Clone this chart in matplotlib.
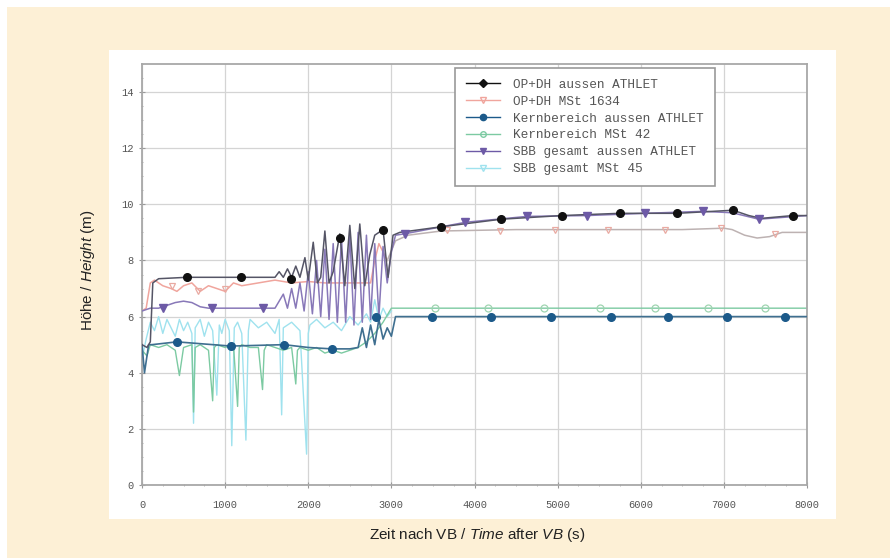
import numpy as np
import matplotlib
matplotlib.use("Agg")
import matplotlib.pyplot as plt
from matplotlib.lines import Line2D
from matplotlib.patches import Rectangle
from matplotlib.ticker import MultipleLocator

# --- data (time in s, level in m) ---
# OP+DH aussen ATHLET (black)
t_opdh = [0, 60, 100, 130, 200, 540, 1190, 1600, 1650, 1700, 1750, 1800, 1850, 1900,
          1960, 2000, 2060, 2110, 2150, 2200, 2250, 2300, 2380, 2440, 2500, 2560, 2620,
          2680, 2740, 2800, 2900, 2960, 3020, 3100, 3600, 4320, 5050, 5750, 6440, 7110,
          7300, 7450, 7830, 8000]
h_opdh = [5.0, 4.9, 5.1, 7.2, 7.35, 7.4, 7.4, 7.4, 7.6, 7.4, 7.7, 7.4, 7.8, 7.4,
          8.1, 7.3, 8.65, 7.2, 7.4, 9.05, 7.2, 7.6, 8.95, 7.1, 9.25, 7.0, 9.3,
          7.1, 8.2, 8.9, 9.1, 7.4, 8.9, 9.0, 9.2, 9.47, 9.6, 9.68, 9.68, 9.79,
          9.6, 9.5, 9.6, 9.6]
tm_opdh = [540, 1190, 1790, 2380, 2900, 3600, 4320, 5050, 5750, 6440, 7110, 7830]
hm_opdh = [7.4, 7.4, 7.35, 8.8, 9.1, 9.2, 9.47, 9.6, 9.68, 9.68, 9.79, 9.6]

# OP+DH MSt 1634 (pink)
t_opdh_m = [0, 50, 100, 150, 250, 350, 420, 500, 600, 700, 800, 900, 1000, 1100, 1200,
            1400, 1600, 1800, 2000, 2200, 2400, 2600, 2750, 2800, 2850, 2950, 3050, 3200,
            3600, 4500, 5500, 6500, 7000, 7100, 7250, 7400, 7550, 7700, 8000]
h_opdh_m = [6.2, 6.3, 7.2, 7.3, 7.1, 7.0, 6.9, 7.1, 7.2, 6.9, 7.1, 7.0, 6.9, 7.2, 7.1,
            7.2, 7.3, 7.2, 7.25, 7.2, 7.2, 7.2, 7.2, 8.0, 8.6, 8.0, 8.7, 8.9,
            9.05, 9.1, 9.1, 9.1, 9.15, 9.1, 8.9, 8.8, 8.85, 9.0, 9.0]
tm_opdh_m = [360, 670, 1000, 3670, 4310, 4970, 5610, 6290, 6960, 7620]
hm_opdh_m = [7.1, 6.9, 7.0, 9.07, 9.05, 9.1, 9.1, 9.1, 9.15, 8.95]

# Kernbereich aussen ATHLET (dark blue)
t_kern = [0, 30, 60, 80, 120, 420, 1070, 1710, 2000, 2280, 2500, 2600, 2650, 2700, 2750,
          2800, 2850, 2900, 2950, 3000, 3050, 3490, 4200, 4920, 5640, 6330, 7040, 7740, 8000]
h_kern = [5.0, 4.0, 4.6, 5.0, 5.0, 5.1, 4.95, 5.0, 4.9, 4.85, 4.85, 4.9, 5.6, 4.9, 5.7,
          5.0, 5.9, 5.2, 5.6, 5.3, 6.0, 6.0, 6.0, 6.0, 6.0, 6.0, 6.0, 6.0, 6.0]
tm_kern = [420, 1070, 1710, 2280, 2820, 3490, 4200, 4920, 5640, 6330, 7040, 7740]
hm_kern = [5.1, 4.95, 5.0, 4.85, 6.0, 6.0, 6.0, 6.0, 6.0, 6.0, 6.0, 6.0]

# Kernbereich MSt 42 (light green)
t_kern_m = [0, 60, 100, 200, 300, 400, 450, 500, 600, 620, 640, 700, 800, 850, 870, 900,
            1000, 1100, 1150, 1170, 1200, 1300, 1400, 1450, 1470, 1500, 1600, 1700, 1800,
            1850, 1870, 1900, 2000, 2100, 2200, 2300, 2400, 2500, 2600, 2700, 2800, 2900,
            3000, 3100, 8000]
h_kern_m = [4.8, 4.6, 5.0, 4.9, 5.0, 4.8, 3.9, 4.9, 5.0, 2.6, 4.9, 5.0, 4.8, 3.0, 4.9, 5.0,
            4.9, 5.0, 2.8, 4.9, 5.0, 4.9, 4.9, 3.4, 4.8, 5.0, 4.9, 4.8, 4.9,
            3.6, 4.8, 4.9, 4.8, 4.9, 4.7, 4.8, 4.7, 4.8, 4.9, 5.1, 5.4, 5.8,
            6.3, 6.3, 6.3]
tm_kern_m = [3530, 4160, 4840, 5510, 6170, 6810, 7500]
hm_kern_m = [6.3, 6.3, 6.3, 6.3, 6.3, 6.3, 6.3]

# SBB gesamt aussen ATHLET (purple)
t_sbb = [0, 100, 200, 300, 400, 500, 600, 700, 800, 900, 1000, 1200, 1400, 1600, 1700,
         1750, 1800, 1850, 1900, 1950, 2000, 2050, 2100, 2150, 2200, 2250, 2300, 2350,
         2400, 2450, 2500, 2550, 2600, 2650, 2700, 2750, 2800, 2850, 2900, 2950, 3000,
         3050, 3160, 3890, 4630, 5350, 6050, 6750, 7100, 7420, 8000]
h_sbb = [6.2, 6.3, 6.3, 6.4, 6.5, 6.55, 6.5, 6.35, 6.3, 6.3, 6.3, 6.3, 6.3, 6.3, 6.8,
         6.3, 7.0, 6.3, 7.2, 6.2, 7.6, 6.1, 8.0, 6.0, 8.4, 5.9, 8.6, 5.8,
         8.8, 5.8, 8.9, 5.7, 9.0, 5.8, 8.9, 5.9, 8.6, 6.0, 8.5, 7.2, 8.3,
         8.9, 8.95, 9.36, 9.57, 9.6, 9.68, 9.75, 9.7, 9.47, 9.6]
tm_sbb = [250, 840, 1460, 3160, 3890, 4630, 5350, 6050, 6750, 7420]
hm_sbb = [6.3, 6.3, 6.3, 8.95, 9.36, 9.57, 9.6, 9.68, 9.75, 9.47]

# SBB gesamt MSt 45 (light cyan)
t_sbb_m = [0, 50, 100, 150, 200, 250, 300, 350, 400, 450, 500, 550, 600, 620, 640, 700,
           750, 800, 850, 900, 930, 960, 1000, 1050, 1080, 1110, 1150, 1200, 1250, 1280,
           1300, 1400, 1500, 1600, 1650, 1680, 1700, 1800, 1900, 1980, 2000, 2020, 2100,
           2200, 2300, 2400, 2500, 2600, 2700, 2750, 2800, 2850, 2900, 2950, 3000]
h_sbb_m = [4.5, 5.2, 5.8, 5.5, 6.0, 5.4, 5.9, 5.6, 5.3, 5.9, 5.5, 5.8, 5.4, 2.2, 5.6, 5.9,
           5.3, 5.8, 5.5, 3.2, 5.7, 5.4, 5.9, 5.5, 1.4, 5.6, 5.8, 5.4, 1.6, 5.5,
           5.9, 5.6, 5.8, 5.4, 5.9, 2.5, 5.6, 5.8, 5.5, 1.1, 5.4, 5.7, 5.9,
           5.6, 5.8, 5.5, 6.0, 5.7, 6.1, 5.8, 6.6, 5.9, 6.3, 6.0, 6.2]

labels = ["OP+DH aussen ATHLET", "OP+DH MSt 1634", "Kernbereich aussen ATHLET",
          "Kernbereich MSt 42", "SBB gesamt aussen ATHLET", "SBB gesamt MSt 45"]

BEIGE = "#fdf0d6"
TICKCOL = "#555555"
MONO = "Liberation Mono"

plt.rcParams["mathtext.fontset"] = "custom"
plt.rcParams["mathtext.it"] = "Liberation Sans:italic"
plt.rcParams["mathtext.rm"] = "Liberation Sans"

fig = plt.figure(figsize=(8.9, 5.58), dpi=100, facecolor="white")
# beige page and white chart panel behind the axes
fig.patches.append(Rectangle((7 / 890, 0), 1, 1 - 7 / 558, transform=fig.transFigure,
                             facecolor=BEIGE, edgecolor="none", zorder=-2))
fig.patches.append(Rectangle((109 / 890, 1 - 519 / 558), 727 / 890, 469 / 558,
                             transform=fig.transFigure, facecolor="white",
                             edgecolor="none", zorder=-1))

ax = fig.add_axes([142 / 890, 1 - 485 / 558, 665 / 890, 421 / 558])
ax.set_facecolor("white")
ax.set_zorder(2)

# lines
ax.plot(t_sbb_m, h_sbb_m, color="#9fe2ee", lw=1.0, zorder=2)
ax.plot(t_kern_m, h_kern_m, color="#7ccaa2", lw=1.0, zorder=2.2)
split = t_opdh_m.index(2950)
ax.plot(t_opdh_m[:split + 1], h_opdh_m[:split + 1], color="#f0a59d", lw=1.1, zorder=2.4)
ax.plot(t_opdh_m[split:], h_opdh_m[split:], color="#bdb2b2", lw=1.1, zorder=2.4)
ax.plot(t_sbb, h_sbb, color="#8878b8", lw=1.1, zorder=2.6)
ax.plot(t_kern, h_kern, color="#3f6f90", lw=1.2, zorder=2.8)
ax.plot(t_opdh, h_opdh, color="#555566", lw=1.1, zorder=3)

# markers
ax.plot(tm_opdh_m, hm_opdh_m, ls="none", marker="v", ms=5, mfc="none",
        mec="#e9aaa2", mew=0.9, zorder=4)
ax.plot(tm_kern_m, hm_kern_m, ls="none", marker="o", ms=5, mfc="none",
        mec="#9fd4b0", mew=0.9, zorder=4)
ax.plot(tm_sbb, hm_sbb, ls="none", marker="v", ms=5.5, color="#6d5aa6", zorder=4)
ax.plot(tm_kern, hm_kern, ls="none", marker="o", ms=5.5, color="#1c5a8a", zorder=5)
ax.plot(tm_opdh, hm_opdh, ls="none", marker="o", ms=5.5, color="#111111", zorder=5)

ax.set_xlim(0, 8000)
ax.set_ylim(0, 15)
ax.xaxis.set_major_locator(MultipleLocator(1000))
ax.xaxis.set_minor_locator(MultipleLocator(250))
ax.yaxis.set_major_locator(MultipleLocator(2))
ax.yaxis.set_minor_locator(MultipleLocator(0.5))
ax.grid(True, which="major", color="#d4d4d4", lw=0.9)
ax.set_axisbelow(True)
for s in ax.spines.values():
    s.set_color("#a8a8a8")
    s.set_linewidth(1.3)
ax.tick_params(which="major", direction="inout", length=4, color="#999999",
               labelsize=7.5, labelcolor=TICKCOL)
ax.tick_params(axis="x", which="major", pad=9)
ax.tick_params(axis="y", which="major", pad=4)
ax.tick_params(which="minor", direction="inout", length=2, color="#aaaaaa")
for lab in ax.get_xticklabels() + ax.get_yticklabels():
    lab.set_fontfamily(MONO)

# legend with proxy handles
handles = [
    Line2D([], [], color="#111111", marker="D", ms=4, lw=1.0),
    Line2D([], [], color="#f0a59d", marker="v", ms=4, mfc="none", lw=1.0),
    Line2D([], [], color="#1c5a8a", marker="o", ms=4.5, lw=1.0),
    Line2D([], [], color="#7ccaa2", marker="o", ms=4, mfc="none", lw=1.0),
    Line2D([], [], color="#6d5aa6", marker="v", ms=4.5, lw=1.0),
    Line2D([], [], color="#9fe2ee", marker="v", ms=4, mfc="none", lw=1.0),
]
leg = ax.legend(handles, labels, loc="upper left", bbox_to_anchor=(0.4707, 0.9905),
                borderaxespad=0, prop={"family": MONO, "size": 9.2}, labelcolor="#555555",
                frameon=True, fancybox=False, edgecolor="#999999", framealpha=1,
                handlelength=2.7, labelspacing=0.38, borderpad=0.85, handletextpad=1.0)
leg.get_frame().set_linewidth(1.2)

fig.text(477 / 890, 1 - 535 / 558, r"Zeit nach VB / $\mathit{Time}$ after $\mathit{VB}$ (s)",
         ha="center", va="center", fontsize=11, family="Liberation Sans", color="#222222")
fig.text(88 / 890, 1 - 270 / 558, r"Höhe / $\mathit{Height}$ (m)", rotation=90,
         ha="center", va="center", fontsize=11, family="Liberation Sans", color="#222222")

fig.savefig("out.png", dpi=100, facecolor=fig.get_facecolor())
